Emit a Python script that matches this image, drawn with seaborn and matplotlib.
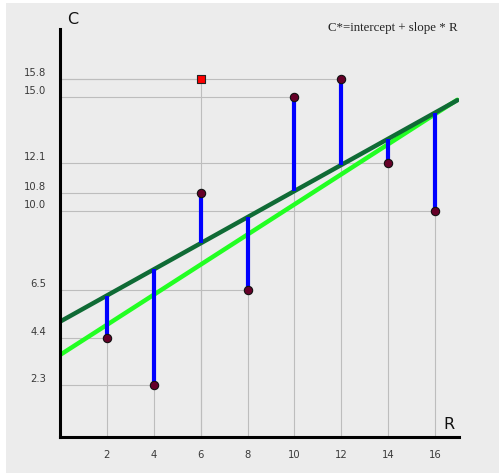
import matplotlib
matplotlib.use("Agg")
import matplotlib.pyplot as plt
import matplotlib.transforms as mtransforms
from matplotlib.patches import Rectangle
import numpy as np
import pandas as pd
import seaborn as sns

# Observed data
r_values = [2, 4, 6, 8, 10, 12, 14, 16]
c_values = [4.4, 2.3, 10.8, 6.5, 15.0, 15.8, 12.1, 10.0]

# Highlighted (dragged) point
sel_r = [6]
sel_c = [15.8]

# Axis tick labels
x_ticks = [2, 4, 6, 8, 10, 12, 14, 16]
y_ticks = [2.3, 4.4, 6.5, 10.0, 10.8, 12.1, 15.0, 15.8]
y_tick_labels = ["2.3", "4.4", "6.5", "10.0", "10.8", "12.1", "15.0", "15.8"]

# Candidate line (user) and least-squares line
user_intercept, user_slope = 5.1, 0.577
fit_intercept, fit_slope = 3.63, 0.665
line_r = [0.0, 16.94]

sns.set_theme(style="white")
plt.rcParams["font.family"] = ["DejaVu Sans"]

fig = plt.figure(figsize=(4.99, 4.73), dpi=100, facecolor="white")
fig.patches.append(Rectangle((6 / 499, 0), 1 - 6 / 499, 1 - 3 / 473,
                             transform=fig.transFigure, facecolor="#ececec",
                             edgecolor="none", zorder=-10))

ax = fig.add_axes([59.76 / 499, (473 - 437.4) / 473, 399 / 499, 408 / 473])
ax.set_facecolor("none")
ax.set_xlim(0, 17)
ax.set_ylim(0, 18)

# drop lines from every point to both axes
all_r = r_values + sel_r
all_c = c_values + sel_c
ax.vlines(all_r, 0, all_c, color="#bdbdbd", lw=0.8, zorder=1)
ax.hlines(all_c, 0, all_r, color="#bdbdbd", lw=0.8, zorder=1)

lines = pd.DataFrame({
    "R": line_r * 2,
    "C": [fit_intercept + fit_slope * r for r in line_r]
         + [user_intercept + user_slope * r for r in line_r],
    "kind": ["fit", "fit", "user", "user"],
})
sns.lineplot(data=lines, x="R", y="C", hue="kind",
             palette={"fit": "#22ff22", "user": "#0f6b35"},
             lw=3.2, legend=False, ax=ax, zorder=2)

# residuals from the user line
user_at_r = [user_intercept + user_slope * r for r in r_values]
ax.vlines(r_values, user_at_r, c_values, color="#0000ff", lw=3, zorder=3)

pts = pd.DataFrame({"R": r_values, "C": c_values})
sns.scatterplot(data=pts, x="R", y="C", ax=ax, s=36, color="#660028",
                edgecolor="#111111", linewidth=0.8, zorder=4)
sel = pd.DataFrame({"R": sel_r, "C": sel_c})
sns.scatterplot(data=sel, x="R", y="C", ax=ax, s=36, marker="s", color="#ff0000",
                edgecolor="#222222", linewidth=0.8, zorder=4)

for side in ("top", "right"):
    ax.spines[side].set_visible(False)
for side in ("left", "bottom"):
    ax.spines[side].set_color("black")
    ax.spines[side].set_linewidth(2.2)

ax.set_xticks(x_ticks)
ax.set_xticklabels([str(t) for t in x_ticks])
ax.set_yticks(y_ticks)
ax.set_yticklabels(y_tick_labels)
ax.tick_params(axis="both", length=0, labelsize=7.2, labelcolor="#3a3a3a")
ax.tick_params(axis="x", pad=9)
ax.tick_params(axis="y", pad=10)
offset = mtransforms.ScaledTranslation(0, 7 / 100, fig.dpi_scale_trans)
for lab in ax.get_yticklabels():
    lab.set_transform(lab.get_transform() + offset)
ax.set_xlabel("")
ax.set_ylabel("")

fig.text(72.7 / 499, 1 - 19 / 473, "C", ha="center", va="center",
         fontsize=11.5, color="#111111")
fig.text(449 / 499, 1 - 424.5 / 473, "R", ha="center", va="center",
         fontsize=11.5, color="#111111")
fig.text(327.7 / 499, 1 - 27.7 / 473, "C*=intercept + slope * R",
         ha="left", va="center", fontsize=9.3, color="#222222",
         family="Liberation Serif")

fig.savefig("out.png", dpi=100, facecolor=fig.get_facecolor())
